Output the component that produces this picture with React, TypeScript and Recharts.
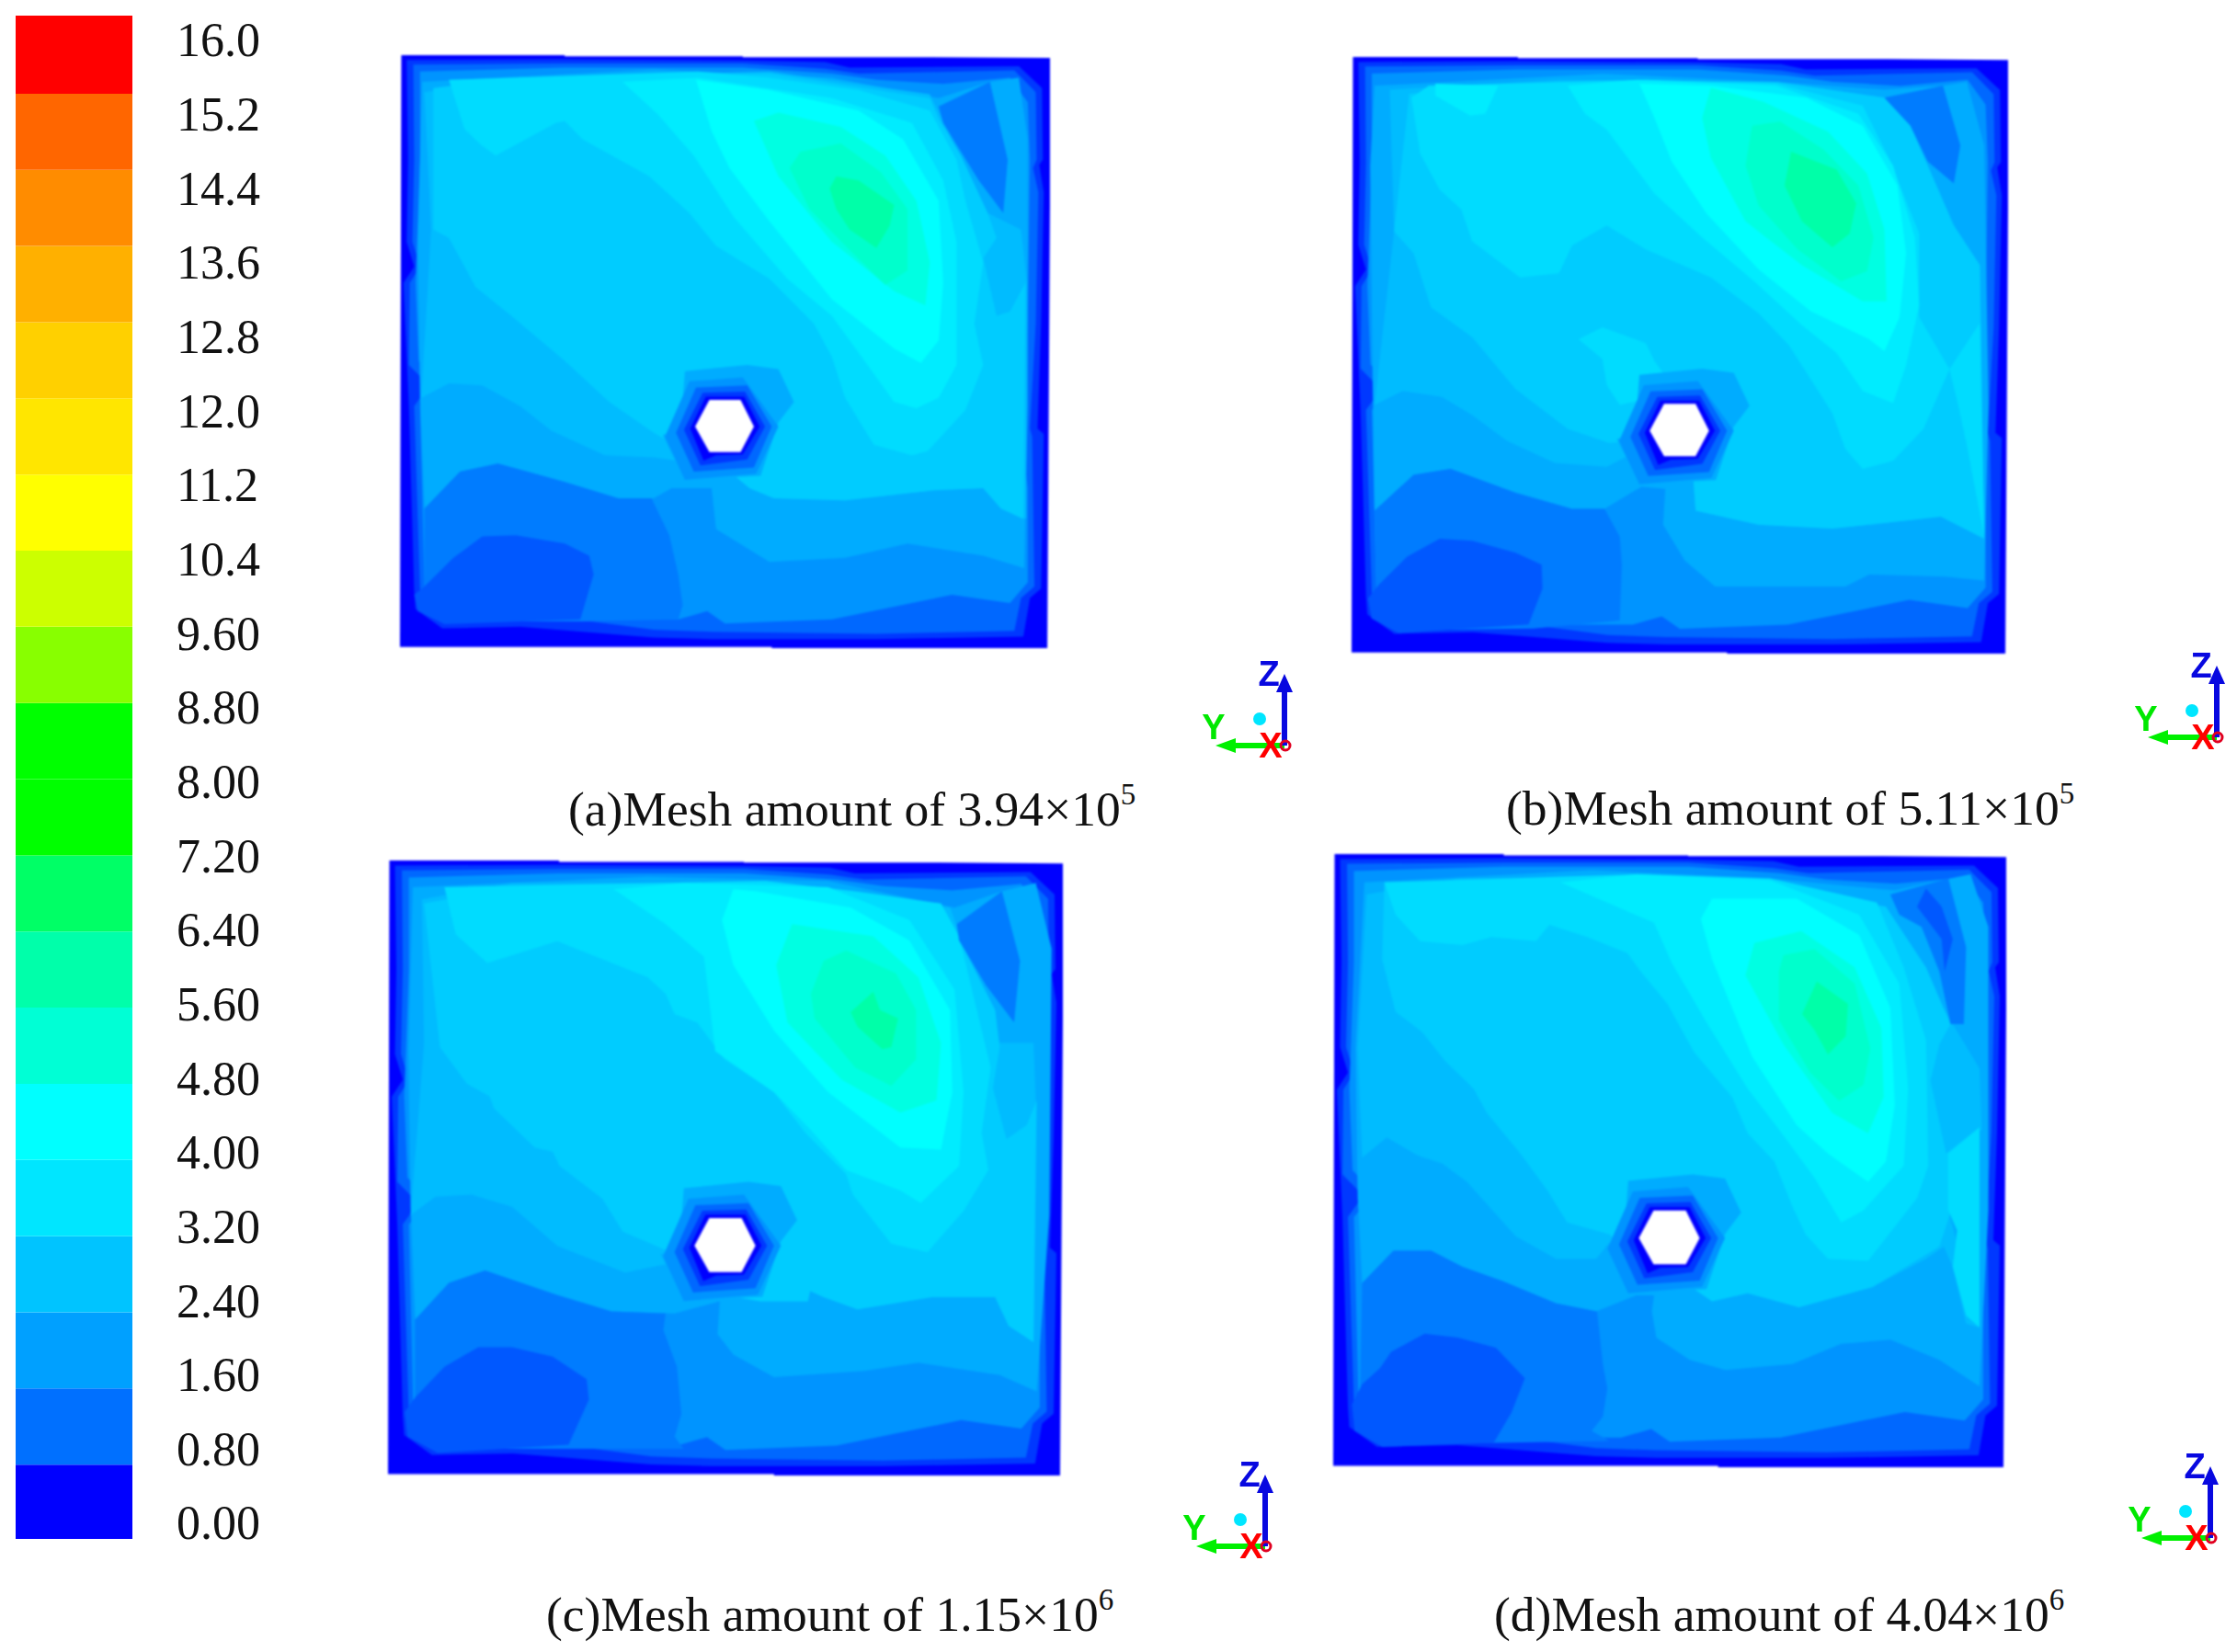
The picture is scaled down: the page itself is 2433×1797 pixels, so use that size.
import { Area, Bar, BarChart, ComposedChart, Label, ReferenceDot, XAxis, YAxis } from "recharts";

type Pt = [number, number];

// colour scale, bottom to top
const scaleTicks = ["0.00", "0.80", "1.60", "2.40", "3.20", "4.00", "4.80", "5.60", "6.40", "7.20", "8.00", "8.80", "9.60", "10.4", "11.2", "12.0", "12.8", "13.6", "14.4", "15.2", "16.0"];
const scaleColors = ["#0000ff", "#0070ff", "#00a0ff", "#00c4ff", "#00e6ff", "#00ffff", "#00ffd5", "#00ffaa", "#00ff66", "#00ff00", "#00ff00", "#88ff00", "#ccff00", "#ffff00", "#ffe600", "#ffd000", "#ffb000", "#ff8c00", "#ff6600", "#ff0000"];
const scaleSteps = [0.78, 0.8, 0.8, 0.8, 0.8, 0.8, 0.8, 0.8, 0.8, 0.8, 0.8, 0.8, 0.8, 0.8, 0.8, 0.8, 0.8, 0.8, 0.8, 0.82];

// contour outlines shared by all four meshes
const outer: Pt[] = [[33, 45], [400, 45], [400, 48], [800, 48], [800, 50], [1222, 50], [1492, 52], [1484, 1490], [865, 1490], [865, 1487], [30, 1487]];
const rimA: Pt[] = [[45, 57], [400, 55], [800, 58], [985, 62], [1040, 75], [1420, 72], [1472, 125], [1474, 300], [1466, 312], [1476, 380], [1470, 700], [1462, 955], [1476, 968], [1470, 1345], [1445, 1368], [1430, 1462], [1100, 1468], [730, 1468], [600, 1464], [300, 1438], [125, 1442], [65, 1395], [62, 1350], [50, 900], [38, 600], [62, 560], [45, 500], [48, 300]];
const rimB: Pt[] = [[60, 68], [400, 65], [800, 65], [985, 78], [1060, 90], [1410, 82], [1458, 135], [1460, 300], [1452, 320], [1464, 380], [1458, 700], [1445, 955], [1450, 975], [1455, 1340], [1425, 1368], [1410, 1448], [1100, 1455], [730, 1450], [600, 1445], [460, 1425], [300, 1425], [135, 1425], [80, 1385], [75, 1345], [62, 900], [95, 850], [50, 800], [52, 600], [75, 560], [58, 500], [62, 300]];
const rimC: Pt[] = [[75, 85], [400, 75], [800, 75], [1000, 90], [1100, 105], [1250, 115], [1400, 100], [1440, 160], [1445, 300], [1440, 700], [1425, 960], [1440, 1100], [1440, 1330], [1400, 1380], [1270, 1360], [1000, 1420], [760, 1430], [720, 1400], [655, 1420], [440, 1420], [130, 1420], [85, 1380], [85, 1340], [75, 900], [120, 845], [72, 790], [65, 600], [75, 300]];
const haloE: Pt[] = [[670, 815], [810, 800], [880, 810], [915, 890], [880, 940], [840, 1070], [670, 1080], [620, 970], [660, 960]];
const haloD: Pt[] = [[680, 840], [800, 830], [880, 950], [830, 1065], [670, 1080], [625, 975]];
const haloC: Pt[] = [[695, 855], [810, 850], [865, 950], [825, 1050], [690, 1060], [650, 965]];
const haloB: Pt[] = [[710, 868], [805, 865], [850, 950], [810, 1030], [705, 1045], [668, 958]];
const haloA: Pt[] = [[717, 877], [803, 877], [838, 950], [800, 1018], [740, 1020], [712, 1033], [682, 955]];
const hexagon: Pt[] = [[725, 885], [795, 885], [825, 950], [795, 1012], [725, 1012], [693, 950]];

// panel a, 3.94e5
const aLight: Pt[] = [[80, 110], [600, 80], [1000, 100], [1240, 150], [1355, 110], [1420, 100], [1440, 250], [1440, 900], [1432, 1295], [1340, 1265], [1170, 1235], [1030, 1270], [860, 1280], [740, 1200], [730, 1100], [640, 1100], [600, 1125], [520, 1125], [400, 1085], [250, 1040], [165, 1060], [85, 1150], [75, 880], [70, 500]];
const aMid: Pt[] = [[85, 135], [300, 100], [860, 85], [1220, 140], [1350, 430], [1425, 470], [1438, 600], [1436, 1175], [1380, 1150], [1340, 1100], [1230, 1105], [1030, 1130], [870, 1125], [815, 1100], [760, 1050], [600, 1025], [490, 1020], [370, 960], [300, 900], [215, 850], [140, 845], [78, 880], [100, 470]];
const aMain: Pt[] = [[105, 125], [300, 100], [860, 90], [1220, 150], [1240, 200], [1290, 290], [1350, 430], [1370, 490], [1340, 540], [1370, 680], [1400, 670], [1435, 600], [1430, 1175], [1380, 1150], [1340, 1100], [1230, 1105], [1030, 1130], [870, 1125], [815, 1100], [760, 1050], [640, 990], [600, 965], [500, 890], [400, 790], [280, 680], [200, 610], [140, 490], [105, 470]];
const aH0: Pt[] = [[140, 105], [700, 85], [860, 100], [1060, 130], [1220, 180], [1280, 300], [1300, 400], [1340, 550], [1320, 700], [1340, 800], [1300, 910], [1215, 1010], [1180, 1020], [1095, 995], [1075, 960], [1030, 880], [1000, 780], [960, 700], [860, 590], [740, 510], [680, 430], [590, 340], [440, 250], [400, 205], [380, 210], [245, 290], [210, 262], [175, 225]];
const aH1: Pt[] = [[530, 110], [700, 100], [1000, 150], [1180, 210], [1250, 350], [1280, 500], [1280, 800], [1240, 880], [1190, 905], [1140, 890], [1060, 770], [1000, 680], [900, 590], [780, 440], [690, 290], [610, 190]];
const aH2: Pt[] = [[695, 105], [860, 130], [1060, 180], [1160, 250], [1240, 400], [1250, 600], [1240, 740], [1200, 795], [1140, 760], [1000, 640], [860, 450], [770, 320], [730, 230]];
const aH3: Pt[] = [[825, 205], [880, 185], [1020, 220], [1120, 290], [1190, 400], [1220, 550], [1210, 655], [1140, 620], [1000, 500], [880, 340]];
const aH4: Pt[] = [[905, 320], [930, 280], [1020, 260], [1110, 330], [1170, 420], [1170, 570], [1120, 605], [1040, 520], [950, 420]];
const aH5: Pt[] = [[995, 370], [1010, 340], [1060, 350], [1140, 410], [1130, 460], [1100, 515], [1040, 470], [1010, 420]];
const aDark: Pt[] = [[85, 1150], [165, 1060], [250, 1040], [400, 1085], [520, 1125], [595, 1125], [635, 1215], [655, 1310], [665, 1385], [655, 1420], [440, 1425], [130, 1425], [85, 1380]];
const aBlob: Pt[] = [[85, 1340], [150, 1270], [215, 1218], [290, 1215], [400, 1235], [455, 1265], [465, 1310], [435, 1420], [130, 1432], [70, 1400], [62, 1360]];
const aPocket: Pt[] = [[1240, 170], [1355, 110], [1395, 300], [1385, 430], [1330, 350], [1290, 280], [1250, 210]];

// panel b, 5.11e5
const bLight: Pt[] = [[75, 100], [600, 70], [1000, 90], [1250, 110], [1385, 100], [1440, 90], [1480, 250], [1490, 900], [1480, 1340], [1390, 1330], [1215, 1325], [1160, 1355], [860, 1355], [790, 1290], [740, 1200], [745, 1110], [690, 1105], [605, 1160], [530, 1160], [400, 1120], [250, 1060], [165, 1075], [75, 1165], [70, 800], [65, 300]];
const bMid: Pt[] = [[110, 110], [500, 85], [1000, 90], [1250, 130], [1410, 450], [1470, 550], [1480, 1235], [1380, 1180], [1130, 1210], [960, 1200], [815, 1165], [810, 1090], [690, 1010], [610, 1055], [490, 1045], [380, 990], [300, 925], [230, 880], [140, 865], [75, 900], [120, 465]];
const bMain: Pt[] = [[120, 465], [155, 120], [500, 90], [1000, 90], [1250, 130], [1310, 200], [1350, 300], [1410, 450], [1470, 550], [1480, 1235], [1380, 1180], [1130, 1210], [960, 1200], [815, 1165], [810, 1090], [690, 990], [615, 995], [520, 960], [400, 860], [300, 730], [205, 655], [165, 520]];
const bH0: Pt[] = [[160, 130], [200, 100], [700, 85], [1000, 95], [1200, 150], [1260, 280], [1330, 470], [1330, 680], [1400, 810], [1340, 960], [1270, 1040], [1200, 1060], [1160, 1010], [1130, 920], [1030, 750], [960, 670], [850, 580], [700, 510], [610, 450], [530, 500], [500, 570], [410, 580], [300, 490], [275, 410], [225, 360], [180, 270]];
const bH0b: Pt[] = [[545, 735], [600, 705], [700, 745], [720, 790], [750, 835], [710, 850], [700, 885], [640, 900], [610, 850], [600, 785]];
const bH0c: Pt[] = [[1400, 810], [1470, 695], [1480, 1230], [1440, 1000], [1420, 900]];
const bH1: Pt[] = [[520, 100], [680, 85], [1000, 100], [1190, 170], [1270, 300], [1320, 480], [1330, 650], [1300, 800], [1270, 895], [1200, 865], [1140, 770], [1060, 700], [950, 590], [830, 480], [720, 370], [610, 210], [560, 170]];
const bH1b: Pt[] = [[215, 95], [360, 100], [330, 170], [295, 175], [215, 125]];
const bH2: Pt[] = [[685, 95], [850, 100], [1070, 130], [1200, 200], [1280, 350], [1300, 520], [1285, 680], [1250, 765], [1215, 735], [1080, 665], [960, 560], [840, 420], [760, 290], [720, 180]];
const bH3: Pt[] = [[850, 105], [970, 140], [1120, 215], [1210, 320], [1250, 460], [1255, 640], [1200, 640], [1060, 550], [930, 440], [850, 280], [830, 180]];
const bH4: Pt[] = [[945, 200], [1010, 190], [1110, 260], [1190, 350], [1225, 480], [1210, 565], [1150, 590], [1050, 510], [960, 400], [930, 300]];
const bH5: Pt[] = [[1035, 265], [1140, 310], [1185, 395], [1170, 470], [1130, 505], [1060, 440], [1020, 350]];
const bDark: Pt[] = [[75, 1165], [165, 1075], [250, 1060], [400, 1120], [530, 1160], [605, 1160], [640, 1230], [645, 1300], [640, 1440], [440, 1460], [130, 1465], [80, 1400]];
const bBlob: Pt[] = [[85, 1350], [150, 1280], [225, 1235], [300, 1240], [400, 1270], [460, 1300], [462, 1360], [430, 1450], [130, 1472], [68, 1435], [60, 1385]];
const bPocket: Pt[] = [[1250, 130], [1385, 100], [1425, 250], [1410, 345], [1350, 290], [1310, 200]];

// panel c, 1.15e6
const cLight: Pt[] = [[80, 100], [600, 75], [1000, 85], [1280, 150], [1385, 110], [1460, 90], [1495, 250], [1490, 900], [1462, 1330], [1380, 1290], [1200, 1260], [1080, 1280], [880, 1295], [790, 1240], [755, 1190], [760, 1110], [660, 1140], [520, 1135], [400, 1095], [240, 1035], [160, 1065], [85, 1155], [75, 880], [70, 500]];
const cMid: Pt[] = [[100, 130], [300, 90], [850, 90], [1270, 150], [1380, 480], [1455, 480], [1460, 620], [1455, 1210], [1400, 1170], [1370, 1100], [1230, 1100], [1065, 1130], [990, 1100], [960, 1085], [955, 1110], [850, 1110], [770, 1095], [640, 1020], [550, 1040], [400, 975], [300, 880], [210, 850], [130, 855], [75, 900], [105, 480]];
const cMain: Pt[] = [[105, 140], [300, 100], [850, 90], [1260, 160], [1370, 400], [1380, 490], [1365, 590], [1395, 715], [1440, 680], [1462, 620], [1455, 1210], [1400, 1170], [1370, 1100], [1230, 1100], [1065, 1130], [990, 1100], [960, 1085], [955, 1110], [850, 1110], [770, 1095], [640, 985], [545, 940], [500, 860], [405, 780], [390, 745], [350, 735], [260, 640], [250, 610], [200, 580], [140, 490]];
const cH0: Pt[] = [[150, 100], [860, 85], [1060, 110], [1250, 140], [1290, 220], [1360, 540], [1340, 700], [1355, 790], [1300, 890], [1220, 990], [1140, 970], [1055, 850], [1040, 800], [950, 700], [880, 600], [770, 520], [710, 430], [660, 410], [640, 360], [600, 320], [400, 232], [245, 285], [175, 215]];
const cH1: Pt[] = [[525, 105], [680, 90], [1000, 100], [1180, 180], [1280, 350], [1300, 600], [1290, 780], [1205, 870], [1160, 840], [1040, 790], [960, 690], [880, 600], [750, 500], [725, 270], [640, 190]];
const cH2: Pt[] = [[790, 105], [840, 110], [1050, 150], [1180, 230], [1270, 400], [1275, 600], [1250, 740], [1160, 735], [1000, 600], [880, 450], [790, 290], [765, 180]];
const cH3: Pt[] = [[920, 190], [1100, 220], [1200, 320], [1250, 480], [1240, 620], [1160, 650], [1030, 570], [910, 430], [885, 290]];
const cH4: Pt[] = [[990, 280], [1040, 255], [1150, 310], [1195, 400], [1195, 520], [1140, 585], [1060, 540], [970, 420], [962, 360]];
const cH5: Pt[] = [[1100, 355], [1115, 400], [1155, 420], [1140, 490], [1120, 495], [1065, 440], [1050, 405]];
const cDark: Pt[] = [[85, 1155], [160, 1065], [240, 1035], [400, 1095], [520, 1135], [640, 1140], [635, 1180], [665, 1270], [675, 1385], [660, 1440], [680, 1470], [460, 1470], [130, 1470], [85, 1380]];
const cBlob: Pt[] = [[85, 1345], [150, 1270], [225, 1222], [300, 1222], [390, 1245], [465, 1300], [470, 1350], [425, 1460], [135, 1480], [68, 1440], [62, 1380]];
const cPocket: Pt[] = [[1285, 190], [1385, 110], [1425, 280], [1412, 430], [1350, 340], [1290, 230]];

// panel d, 4.04e6
const dLight: Pt[] = [[90, 90], [600, 60], [1000, 80], [1280, 110], [1340, 95], [1450, 70], [1490, 200], [1490, 900], [1470, 1335], [1380, 1270], [1270, 1220], [1160, 1230], [1050, 1280], [900, 1295], [820, 1270], [745, 1215], [735, 1150], [740, 1110], [700, 1110], [610, 1150], [520, 1130], [400, 1075], [310, 1040], [240, 1000], [155, 1000], [85, 1080], [75, 870], [70, 500]];
const dMid: Pt[] = [[95, 120], [300, 80], [850, 80], [1260, 150], [1410, 440], [1470, 550], [1475, 700], [1400, 760], [1360, 800], [1400, 900], [1470, 1190], [1440, 1180], [1410, 1040], [1390, 990], [1350, 1020], [1230, 1090], [1065, 1140], [950, 1105], [870, 1125], [830, 1095], [770, 1090], [640, 980], [610, 1020], [520, 1020], [430, 965], [320, 830], [265, 785], [210, 765], [140, 720], [85, 770], [75, 500]];
const dMain: Pt[] = [[135, 90], [850, 80], [1260, 150], [1350, 300], [1405, 440], [1380, 490], [1360, 580], [1395, 760], [1470, 695], [1470, 900], [1405, 905], [1380, 990], [1230, 1090], [1065, 1140], [950, 1105], [870, 1125], [830, 1095], [770, 1090], [640, 960], [545, 930], [500, 850], [440, 760], [365, 660], [335, 600], [270, 530], [220, 460], [160, 410], [130, 280]];
const dH0: Pt[] = [[135, 90], [700, 70], [1000, 80], [1240, 140], [1300, 300], [1350, 480], [1355, 790], [1330, 870], [1220, 1025], [1130, 1020], [1080, 960], [1050, 890], [1010, 780], [950, 710], [915, 620], [830, 510], [770, 390], [710, 310], [680, 265], [590, 225], [505, 195], [475, 235], [375, 225], [310, 245], [215, 235], [160, 170]];
const dH0b: Pt[] = [[1400, 760], [1470, 695], [1470, 1190], [1440, 1160], [1410, 1040], [1420, 950], [1400, 900]];
const dH1: Pt[] = [[530, 90], [700, 70], [1000, 85], [1200, 170], [1290, 340], [1310, 600], [1300, 790], [1210, 900], [1160, 930], [1100, 820], [1020, 700], [950, 600], [860, 440], [780, 290], [740, 190]];
const dH2: Pt[] = [[870, 130], [1060, 130], [1200, 220], [1270, 400], [1280, 640], [1260, 780], [1220, 830], [1130, 760], [1060, 690], [960, 520], [870, 280], [845, 180]];
const dH3: Pt[] = [[965, 240], [1070, 210], [1190, 300], [1250, 450], [1255, 620], [1220, 710], [1140, 660], [1030, 490], [945, 320]];
const dH4: Pt[] = [[1030, 270], [1100, 255], [1190, 340], [1225, 500], [1210, 590], [1155, 630], [1090, 560], [1020, 430], [1020, 310]];
const dH5: Pt[] = [[1105, 335], [1175, 390], [1170, 470], [1130, 515], [1100, 455], [1072, 415]];
const dDark: Pt[] = [[85, 1080], [155, 1000], [240, 1000], [310, 1040], [400, 1075], [520, 1130], [612, 1150], [625, 1280], [635, 1340], [625, 1410], [600, 1445], [640, 1470], [380, 1475], [130, 1470], [80, 1380]];
const dBlob: Pt[] = [[85, 1330], [125, 1290], [150, 1250], [225, 1205], [300, 1215], [385, 1240], [450, 1315], [420, 1400], [380, 1475], [130, 1485], [68, 1445], [62, 1380]];
const dPocket: Pt[] = [[1270, 120], [1400, 80], [1440, 250], [1435, 440], [1405, 440], [1380, 310], [1340, 200], [1290, 170]];
const dPocket2: Pt[] = [[1330, 150], [1350, 105], [1385, 150], [1410, 230], [1392, 310], [1385, 230]];

// axis triad glyphs, px from the origin
const zShaft: Pt[] = [[-3, 0], [3, 0], [3, 62], [-3, 62]];
const zHead: Pt[] = [[-9, 58], [9, 58], [0, 78]];
const yShaft: Pt[] = [[0, -3], [0, 3], [-58, 3], [-58, -3]];
const yHead: Pt[] = [[-53, 8], [-53, -8], [-75, 0]];

const BLUES = { outer: "#0000ff", rimA: "#0038ff", rimB: "#0068ff", rimC: "#0094ff", light: "#00acff", mid: "#00bcff", main: "#00ccff", h0: "#00dcff", h1: "#00ecff", h2: "#00ffff", h3: "#00ffe2", h4: "#00ffcc", h5: "#00ffa8", dark: "#007cff", blob: "#0058ff" };

const closed = (pts: Pt[]) => [...pts, pts[0]].map(([x, y]) => ({ x, y }));

const panels = [
  {
    id: "a", left: 435, top: 60, width: 707, height: 645, own: { x: [30, 1490], y: [45, 1490] },
    caption: "(a)Mesh amount of 3.94×10", power: "5", capLeft: 618, capTop: 847,
    triad: [1397, 811],
    layers: [[aLight, BLUES.light], [aMid, BLUES.mid], [aMain, BLUES.main], [aH0, BLUES.h0], [aH1, BLUES.h1], [aH2, BLUES.h2], [aH3, BLUES.h3], [aH4, BLUES.h4], [aH5, BLUES.h5], [aDark, BLUES.dark], [aBlob, BLUES.blob], [aPocket, BLUES.dark]],
  },
  {
    id: "b", left: 1470, top: 62, width: 714, height: 649, own: { x: [22, 1535], y: [28, 1523] },
    caption: "(b)Mesh amount of 5.11×10", power: "5", capLeft: 1638, capTop: 846,
    triad: [2411, 802],
    layers: [[bLight, BLUES.light], [bMid, BLUES.mid], [bMain, BLUES.main], [bH0, BLUES.h0], [bH0b, BLUES.h0], [bH0c, BLUES.h0], [bH1, BLUES.h1], [bH1b, BLUES.h1], [bH2, BLUES.h2], [bH3, BLUES.h3], [bH4, BLUES.h4], [bH5, BLUES.h5], [bDark, BLUES.dark], [bBlob, BLUES.blob], [bPocket, BLUES.dark]],
  },
  {
    id: "c", left: 422, top: 936, width: 734, height: 669, own: { x: [25, 1520], y: [35, 1535] },
    caption: "(c)Mesh amount of 1.15×10", power: "6", capLeft: 594, capTop: 1723,
    triad: [1376, 1682],
    layers: [[cLight, BLUES.light], [cMid, BLUES.mid], [cMain, BLUES.main], [cH0, BLUES.h0], [cH1, BLUES.h1], [cH2, BLUES.h2], [cH3, BLUES.h3], [cH4, BLUES.h4], [cH5, BLUES.h5], [cDark, BLUES.dark], [cBlob, BLUES.blob], [cPocket, BLUES.dark]],
  },
  {
    id: "d", left: 1450, top: 929, width: 732, height: 667, own: { x: [20, 1530], y: [20, 1535] },
    caption: "(d)Mesh amount of 4.04×10", power: "6", capLeft: 1625, capTop: 1723,
    triad: [2404, 1673],
    layers: [[dLight, BLUES.light], [dMid, BLUES.mid], [dMain, BLUES.main], [dH0, BLUES.h0], [dH0b, BLUES.h0], [dH1, BLUES.h1], [dH2, BLUES.h2], [dH3, BLUES.h3], [dH4, BLUES.h4], [dH5, BLUES.h5], [dDark, BLUES.dark], [dBlob, BLUES.blob], [dPocket, BLUES.dark], [dPocket2, BLUES.blob]],
  },
];

const sharedBefore: [Pt[], string][] = [[outer, BLUES.outer], [rimA, BLUES.rimA], [rimB, BLUES.rimB], [rimC, BLUES.rimC]];
const sharedAfter: [Pt[], string][] = [[haloE, BLUES.light], [haloD, BLUES.rimC], [haloC, BLUES.rimB], [haloB, BLUES.rimA], [haloA, BLUES.outer], [hexagon, "#ffffff"]];

const serif = "'Liberation Serif', 'Times New Roman', serif";

// closed outline drawn as an area, one per contour band
function band(pts: Pt[], fill: string, key: string, axis: string) {
  return (
    <Area
      key={key}
      data={closed(pts)}
      dataKey="y"
      xAxisId={axis}
      yAxisId={axis}
      type="linear"
      baseValue={0}
      stroke="none"
      fill={fill}
      fillOpacity={1}
      dot={false}
      activeDot={false}
      isAnimationActive={false}
    />
  );
}

function ContourPanel({ p }: { p: (typeof panels)[number] }) {
  return (
    <div style={{ position: "absolute", left: p.left, top: p.top, filter: "blur(0.8px)" }}>
      <ComposedChart width={p.width} height={p.height} margin={{ top: 0, right: 0, bottom: 0, left: 0 }}>
        <XAxis xAxisId="shared" dataKey="x" type="number" domain={[30, 1490]} allowDataOverflow hide />
        <YAxis yAxisId="shared" type="number" domain={[45, 1490]} reversed allowDataOverflow hide />
        <XAxis xAxisId="own" dataKey="x" type="number" domain={p.own.x} allowDataOverflow hide />
        <YAxis yAxisId="own" type="number" domain={p.own.y} reversed allowDataOverflow hide />
        {sharedBefore.map(([pts, fill], i) => band(pts, fill, `before-${i}`, "shared"))}
        {p.layers.map(([pts, fill], i) => band(pts as Pt[], fill as string, `own-${i}`, "own"))}
        {sharedAfter.map(([pts, fill], i) => band(pts, fill, `after-${i}`, "shared"))}
      </ComposedChart>
    </div>
  );
}

function Triad({ origin }: { origin: number[] }) {
  const glyph = (text: string, x: number, y: number, fill: string) => (
    <ReferenceDot x={x} y={y} r={0} xAxisId="t" yAxisId="t" ifOverflow="visible" fill="none" stroke="none">
      <Label value={text} position="center" fill={fill} fontSize={38} fontWeight={700} fontFamily="'Liberation Sans', sans-serif" />
    </ReferenceDot>
  );
  return (
    <div style={{ position: "absolute", left: origin[0] - 100, top: origin[1] - 100, filter: "blur(0.5px)" }}>
      <ComposedChart width={130} height={130} margin={{ top: 0, right: 0, bottom: 0, left: 0 }}>
        <XAxis xAxisId="t" dataKey="x" type="number" domain={[-100, 30]} allowDataOverflow hide />
        <YAxis yAxisId="t" type="number" domain={[-30, 100]} allowDataOverflow hide />
        <ReferenceDot x={-27} y={29} r={7} xAxisId="t" yAxisId="t" fill="#00e6ff" stroke="none" />
        {glyph("X", -15, 0, "#ff0000")}
        <ReferenceDot x={1} y={0} r={5} xAxisId="t" yAxisId="t" fill="none" stroke="#e00020" strokeWidth={3} />
        {band(yShaft, "#00f000", "ys", "t")}
        {band(yHead, "#00f000", "yh", "t")}
        {band(zShaft, "#0808e0", "zs", "t")}
        {band(zHead, "#0808e0", "zh", "t")}
        {glyph("Y", -77, 20, "#00e800")}
        {glyph("Z", -17, 78, "#0808e0")}
      </ComposedChart>
    </div>
  );
}

function ColorScale() {
  const row: Record<string, string | number> = { name: "scale" };
  scaleSteps.forEach((step, i) => {
    row[`s${i}`] = step;
  });
  return (
    <div style={{ position: "absolute", left: 17, top: -13 }}>
      <BarChart width={300} height={1717} data={[row]} barCategoryGap={0} margin={{ top: 30, right: 0, bottom: 30, left: 0 }}>
        <XAxis dataKey="name" hide />
        <YAxis yAxisId="bar" type="number" domain={[0, 16]} allowDataOverflow hide />
        <YAxis
          yAxisId="labels"
          orientation="right"
          type="number"
          width={173}
          domain={[-0.1786, 16.258]}
          ticks={scaleTicks.map(Number)}
          interval={0}
          allowDataOverflow
          tickLine={false}
          axisLine={false}
          tickMargin={42}
          tickFormatter={(v: number) => scaleTicks.find((t) => Number(t) === v) ?? ""}
          tick={{ fontSize: 52, fill: "#111111", fontFamily: serif }}
        />
        {scaleColors.map((c, i) => (
          <Bar key={c + i} yAxisId="bar" dataKey={`s${i}`} stackId="scale" fill={c} isAnimationActive={false} />
        ))}
      </BarChart>
    </div>
  );
}

export default function App() {
  return (
    <div style={{ position: "absolute", left: 0, top: 0, width: 2433, height: 1797, background: "#ffffff", overflow: "hidden" }}>
      <ColorScale />
      {panels.map((p) => (
        <div key={p.id}>
          <ContourPanel p={p} />
          <Triad origin={p.triad} />
          <div style={{ position: "absolute", left: p.capLeft, top: p.capTop, fontFamily: serif, fontSize: 53.5, lineHeight: "66px", color: "#111111", whiteSpace: "nowrap" }}>
            {p.caption}
            <sup style={{ fontSize: 33, lineHeight: 0, verticalAlign: "23px" }}>{p.power}</sup>
          </div>
        </div>
      ))}
    </div>
  );
}
